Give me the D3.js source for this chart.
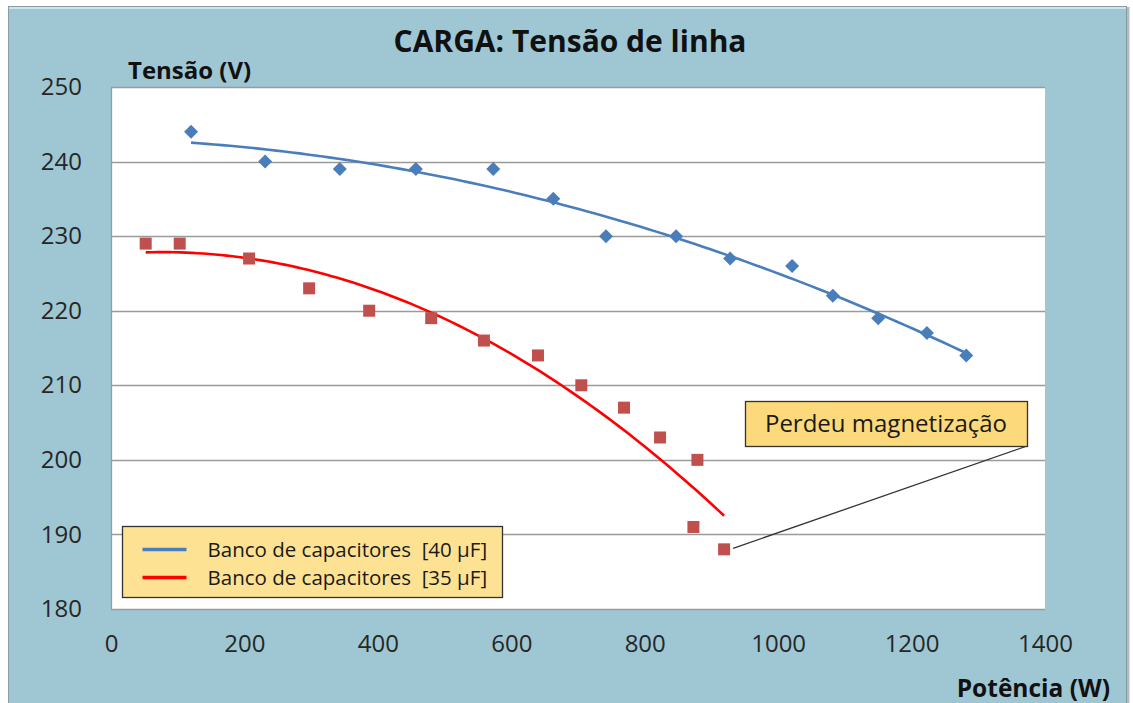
<!DOCTYPE html>
<html>
<head>
<meta charset="utf-8">
<script src="https://cdn.jsdelivr.net/npm/d3@7"></script>
<style>
  html, body { margin: 0; padding: 0; background: #ffffff; }
  svg { display: block; }
  text { font-family: "Open Sans", Lato, sans-serif; }
</style>
</head>
<body>
<svg id="chart" width="1133" height="703"></svg>
<script>
// Measured load: power (W) vs. line voltage (V)
const power40 = [120, 231, 343, 457, 573, 663, 742, 847, 928, 1021, 1082, 1150, 1223, 1282];
const volts40 = [244, 240, 239, 239, 239, 235, 230, 230, 227, 226, 222, 219, 217, 214];
const power35 = [52, 103, 207, 297, 387, 480, 559, 640, 705, 769, 823, 879, 873, 919];
const volts35 = [229, 229, 227, 223, 220, 219, 216, 214, 210, 207, 203, 200, 191, 188];

const seriesNames = ["Banco de capacitores  [40 µF]", "Banco de capacitores  [35 µF]"];
const xTicks = [0, 200, 400, 600, 800, 1000, 1200, 1400];
const yTicks = [180, 190, 200, 210, 220, 230, 240, 250];
const titleText = "CARGA: Tensão de linha";
const yTitle = "Tensão (V)";
const xTitle = "Potência (W)";
const noteText = "Perdeu magnetização";

const FONT = "'Open Sans', Lato, sans-serif";
const svg = d3.select("#chart");

// chart background panel
svg.append("rect").attr("x", 8.5).attr("y", 6.5).attr("width", 1118).attr("height", 700)
  .attr("fill", "#9fc7d3").attr("stroke", "#8a9ea6").attr("stroke-width", 1);
svg.append("line").attr("x1", 9).attr("x2", 1126).attr("y1", 8).attr("y2", 8)
  .attr("stroke", "#c9e6ee").attr("stroke-width", 2);
svg.append("line").attr("x1", 1128).attr("x2", 1128).attr("y1", 7).attr("y2", 703)
  .attr("stroke", "#7f9299").attr("stroke-width", 3).attr("opacity", 0.6);

const plot = { left: 111, right: 1045, top: 87, bottom: 609 };
const x = d3.scaleLinear().domain([0, 1400]).range([plot.left, plot.right]);
const y = d3.scaleLinear().domain([180, 250]).range([plot.bottom, plot.top]);

// plot area
svg.append("rect").attr("x", plot.left).attr("y", plot.top)
  .attr("width", plot.right - plot.left).attr("height", plot.bottom - plot.top)
  .attr("fill", "#ffffff");

// horizontal gridlines
svg.append("g").selectAll("line").data(yTicks).join("line")
  .attr("x1", plot.left).attr("x2", plot.right)
  .attr("y1", d => Math.round(y(d)) + 0.5).attr("y2", d => Math.round(y(d)) + 0.5)
  .attr("stroke", "#9a9a9a").attr("stroke-width", 1.3);

// plot border (left edge)
svg.append("line").attr("x1", plot.left + 0.5).attr("x2", plot.left + 0.5)
  .attr("y1", plot.top).attr("y2", plot.bottom).attr("stroke", "#9a9a9a").attr("stroke-width", 1.3);

// axes (labels only, via d3 axis generators)
const yAxis = svg.append("g").attr("transform", `translate(${plot.left - 29},0)`)
  .call(d3.axisLeft(y).tickValues(yTicks).tickSize(0).tickPadding(0));
yAxis.select(".domain").remove();
yAxis.selectAll("text").attr("font-size", 24).attr("fill", "#262626")
  .attr("font-family", FONT);

const xAxis = svg.append("g").attr("transform", `translate(0,${plot.bottom + 26})`)
  .call(d3.axisBottom(x).tickValues(xTicks).tickSize(0).tickPadding(0).tickFormat(d3.format("d")));
xAxis.select(".domain").remove();
xAxis.selectAll("text").attr("font-size", 24).attr("fill", "#262626")
  .attr("font-family", FONT);

// titles
svg.append("text").attr("x", 570).attr("y", 52).attr("text-anchor", "middle")
  .attr("font-size", 30).attr("font-weight", "bold").attr("fill", "#111").text(titleText);
svg.append("text").attr("x", 128).attr("y", 79).attr("text-anchor", "start")
  .attr("font-size", 24).attr("font-weight", "bold").attr("fill", "#111").text(yTitle);
svg.append("text").attr("x", 1110).attr("y", 697).attr("text-anchor", "end")
  .attr("font-size", 24.5).attr("font-weight", "bold").attr("fill", "#111").text(xTitle);

// second-order least-squares trend
function quadFit(xs, ys) {
  const n = xs.length;
  const s = [0, 0, 0, 0, 0], t = [0, 0, 0];
  for (let i = 0; i < n; i++) {
    for (let k = 0; k <= 4; k++) s[k] += Math.pow(xs[i], k);
    for (let k = 0; k <= 2; k++) t[k] += ys[i] * Math.pow(xs[i], k);
  }
  const A = [[s[0], s[1], s[2], t[0]], [s[1], s[2], s[3], t[1]], [s[2], s[3], s[4], t[2]]];
  for (let i = 0; i < 3; i++) {
    let p = i;
    for (let r = i + 1; r < 3; r++) if (Math.abs(A[r][i]) > Math.abs(A[p][i])) p = r;
    [A[i], A[p]] = [A[p], A[i]];
    for (let r = 0; r < 3; r++) {
      if (r === i) continue;
      const f = A[r][i] / A[i][i];
      for (let c = i; c < 4; c++) A[r][c] -= f * A[i][c];
    }
  }
  const c = A.map((row, i) => row[3] / row[i]);
  return v => c[0] + c[1] * v + c[2] * v * v;
}

function trend(xs, ys, color) {
  const f = quadFit(xs, ys);
  const lo = d3.min(xs), hi = d3.max(xs);
  const pts = d3.range(0, 101).map(i => lo + (hi - lo) * i / 100);
  svg.append("path")
    .attr("d", d3.line().x(v => x(v)).y(v => y(f(v)))(pts))
    .attr("fill", "none").attr("stroke", color).attr("stroke-width", 2.6);
}

trend(power40, volts40, "#4a7ebb");
trend(power35, volts35, "#ff0000");

// markers
svg.append("g").selectAll("path").data(power40.map((p, i) => [p, volts40[i]])).join("path")
  .attr("d", d3.symbol(d3.symbolDiamond2, 125))
  .attr("transform", d => `translate(${x(d[0])},${y(d[1])})`)
  .attr("fill", "#4a7ebb");

svg.append("g").selectAll("rect").data(power35.map((p, i) => [p, volts35[i]])).join("rect")
  .attr("x", d => x(d[0]) - 6).attr("y", d => y(d[1]) - 6)
  .attr("width", 12).attr("height", 12)
  .attr("fill", "#c0504d");

// callout for the last 35 µF reading
const lastIdx = power35.length - 1;
const note = { x: 745, y: 401, w: 282, h: 45 };
svg.append("line")
  .attr("x1", x(power35[lastIdx]) + 9).attr("y1", y(volts35[lastIdx]) - 1)
  .attr("x2", note.x + note.w).attr("y2", note.y + note.h)
  .attr("stroke", "#333").attr("stroke-width", 1.3);
svg.append("rect").attr("x", note.x + 0.5).attr("y", note.y + 0.5)
  .attr("width", note.w).attr("height", note.h)
  .attr("fill", "#fcd97a").attr("stroke", "#333").attr("stroke-width", 1.3);
svg.append("text").attr("x", note.x + note.w / 2).attr("y", note.y + 31)
  .attr("text-anchor", "middle").attr("font-size", 24).attr("fill", "#1a1a1a").text(noteText);

// legend
const leg = svg.append("g").attr("transform", "translate(122.5,526.5)");
leg.append("rect").attr("width", 380).attr("height", 71)
  .attr("fill", "#fde293").attr("stroke", "#333").attr("stroke-width", 1.3);
const legColors = ["#4a7ebb", "#ff0000"];
seriesNames.forEach((name, i) => {
  const cy = 23 + i * 28;
  leg.append("line").attr("x1", 20).attr("x2", 64).attr("y1", cy).attr("y2", cy)
    .attr("stroke", legColors[i]).attr("stroke-width", 3.5);
  leg.append("text").attr("x", 85).attr("y", cy + 7).attr("font-size", 20.5)
    .attr("fill", "#1a1a1a").style("white-space", "pre").text(name);
});
</script>
</body>
</html>
